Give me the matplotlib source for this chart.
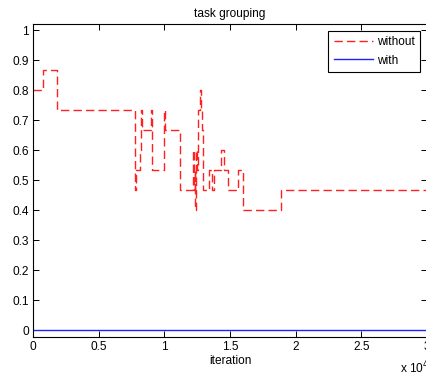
import matplotlib
matplotlib.use('Agg')
import matplotlib.pyplot as plt
from matplotlib.ticker import FuncFormatter, MultipleLocator

# step data (iteration, value held until next point)
without_x = [0, 740, 1850, 7800, 7850, 8150, 8200, 8280, 8950, 9050,
             10000, 10050, 11170, 12200, 12260, 12300, 12340, 12380, 12450,
             12550, 12700, 12760, 12900, 12950, 13400, 13610, 13810, 14290,
             14570, 14880, 15600, 16000, 18900, 30000]
without_y = [0.8, 0.867, 0.733, 0.467, 0.533, 0.6, 0.733, 0.667, 0.733, 0.533,
             0.733, 0.667, 0.467, 0.6, 0.467, 0.533, 0.4, 0.6, 0.533,
             0.733, 0.8, 0.733, 0.667, 0.467, 0.533, 0.467, 0.533, 0.6,
             0.533, 0.467, 0.533, 0.4, 0.467, 0.467]

with_x = [0, 30000]
with_y = [0, 0]

FS = 8.6
plt.rcParams['font.family'] = ['Liberation Sans', 'DejaVu Sans']
plt.rcParams['font.size'] = FS

fig = plt.figure(figsize=(4.27, 3.76), dpi=100)
ax = fig.add_axes([33 / 427, 1 - 337 / 376, 1 - 33 / 427, (337 - 24) / 376])

ax.plot(without_x, without_y, color='#ff2020', linewidth=1.0, dashes=(6, 3),
        drawstyle='steps-post', label='without')
ax.plot(with_x, with_y, color='#2020ff', linewidth=1.0, label='with')

ax.set_xlim(0, 30000)
ax.set_ylim(-0.022, 1.02)
ax.xaxis.set_major_locator(MultipleLocator(5000))
ax.yaxis.set_major_locator(MultipleLocator(0.1))
ax.xaxis.set_major_formatter(FuncFormatter(lambda v, p: f'{v / 1e4:g}'))
ax.yaxis.set_major_formatter(FuncFormatter(lambda v, p: f'{v:.1f}'.rstrip('0').rstrip('.') if v > 0.001 else '0'))
ax.tick_params(direction='in', top=True, right=True, length=4, width=0.7, pad=3)
for s in ax.spines.values():
    s.set_linewidth(0.8)

ax.set_title('task grouping', fontsize=FS, pad=5)
ax.set_xlabel('iteration', fontsize=FS, labelpad=1)
fig.text(400 / 427, 1 - 376 / 376, r'x 10$^4$', fontsize=FS, va='bottom')

leg = ax.legend(loc='upper right', fancybox=False, edgecolor='black',
                framealpha=1, borderaxespad=0.55, handlelength=3.3,
                handletextpad=0.35, borderpad=0.45, labelspacing=0.55)
leg.get_frame().set_linewidth(0.8)

fig.savefig('out.png', dpi=100)
